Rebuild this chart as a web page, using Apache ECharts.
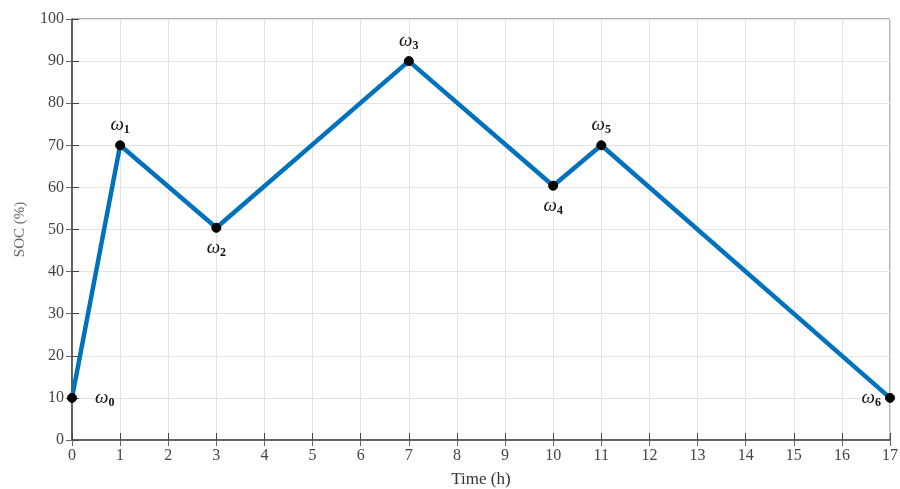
<!DOCTYPE html>
<html><head><meta charset="utf-8">
<script src="https://cdn.jsdelivr.net/npm/echarts@6/dist/echarts.min.js"></script>
<style>html,body{margin:0;padding:0;background:#fff}#c{width:900px;height:489px}</style>
</head><body><div id="c"></div>
<script>
const timeH = [0, 1, 3, 7, 10, 11, 17];
const socPct = [10, 70, 50.4, 90, 60.4, 70, 10];
const pointSubs = ['0', '1', '2', '3', '4', '5', '6'];
const labelPos = ['right', 'top', 'bottom', 'top', 'bottom', 'top', 'left'];
const xTicks = [0,1,2,3,4,5,6,7,8,9,10,11,12,13,14,15,16,17];
const yTicks = [0,10,20,30,40,50,60,70,80,90,100];

const font = '"Liberation Serif", "DejaVu Serif", serif';
const chart = echarts.init(document.getElementById('c'));
const data = timeH.map((t, i) => ({
  value: [t, socPct[i]],
  label: {
    show: true,
    formatter: '{w|ω}{s|' + pointSubs[i] + '}',
    position: labelPos[i],
    distance: labelPos[i] === 'right' ? 18 : 4,
    rich: {
      w: { fontFamily: font, fontStyle: 'italic', fontSize: 19, color: '#111', lineHeight: 22, verticalAlign: 'middle' },
      s: { fontFamily: font, fontSize: 12, fontWeight: 'bold', color: '#111', lineHeight: 12, verticalAlign: 'bottom' }
    }
  }
}));
const axisFont = { fontFamily: font, fontSize: 16, color: '#444' };
chart.setOption({
  animation: false,
  grid: { left: 72, right: 10, top: 19, bottom: 49, show: true, borderColor: '#666', borderWidth: 1,
          containLabel: false, outerBoundsMode: 'none' },
  xAxis: [{
    type: 'value', min: 0, max: 17, interval: 1,
    name: 'Time (h)', nameLocation: 'middle', nameGap: 31,
    nameTextStyle: { fontFamily: font, fontSize: 17, color: '#333' },
    axisLine: { lineStyle: { color: '#444', width: 1.5 } },
    axisTick: { inside: true, length: 7, lineStyle: { color: '#444' } },
    axisLabel: Object.assign({ margin: 8 }, axisFont),
    splitLine: { show: true, lineStyle: { color: '#e3e3e3' } }
  }, {
    type: 'value', min: 0, max: 17, interval: 1, position: 'top',
    axisLine: { show: true, lineStyle: { color: '#666', width: 1 } },
    axisTick: { show: true, inside: true, length: 6, lineStyle: { color: '#666' } },
    axisLabel: { show: false }, splitLine: { show: false }
  }],
  yAxis: [{
    type: 'value', min: 0, max: 100, interval: 10,
    name: 'SOC (%)', nameLocation: 'middle', nameGap: 44,
    nameTextStyle: { fontFamily: font, fontSize: 15, color: '#666' },
    axisLine: { show: true, lineStyle: { color: '#444', width: 1.5 } },
    axisTick: { show: true, inside: true, length: 7, lineStyle: { color: '#444' } },
    axisLabel: Object.assign({ margin: 8 }, axisFont),
    splitLine: { show: true, lineStyle: { color: '#e3e3e3' } }
  }, {
    type: 'value', min: 0, max: 100, interval: 10, position: 'right',
    axisLine: { show: true, lineStyle: { color: '#666', width: 1 } },
    axisTick: { show: true, inside: true, length: 6, lineStyle: { color: '#666' } },
    axisLabel: { show: false }, splitLine: { show: false }
  }],
  series: [{
    type: 'line', data: data, xAxisIndex: 0, yAxisIndex: 0,
    lineStyle: { color: '#0072BD', width: 4.5 },
    itemStyle: { color: '#000', borderColor: '#000' },
    symbol: 'circle', symbolSize: 9, showAllSymbol: true,
    z: 5
  }]
});
</script></body></html>
